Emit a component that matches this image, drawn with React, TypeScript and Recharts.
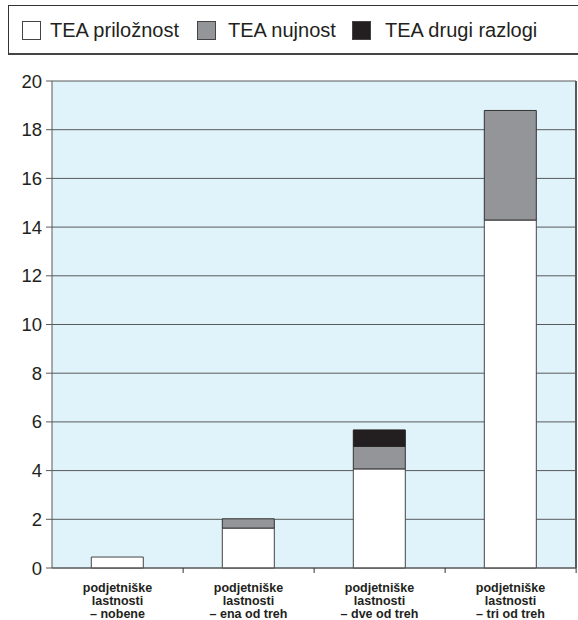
import React from "react";
import { BarChart, Bar, XAxis, YAxis, CartesianGrid } from "recharts";

const categories = ["– nobene", "– ena od treh", "– dve od treh", "– tri od treh"];
const priloznost = [0.45, 1.64, 4.07, 14.29];
const nujnost = [0, 0.38, 0.93, 4.5];
const drugi = [0, 0, 0.67, 0];
const yTicks = [0, 2, 4, 6, 8, 10, 12, 14, 16, 18, 20];

const data = categories.map((c, i) => ({
  label: c,
  priloznost: priloznost[i],
  nujnost: nujnost[i],
  drugi: drugi[i],
}));

const W = 578;
const H = 620;
const LEFT = 52;
const RIGHT = 1;
const band = (W - LEFT - RIGHT) / categories.length;
const font = "'Liberation Sans', Arial, sans-serif";

function CatTick({ x, y, payload }: any) {
  return (
    <g>
      <line x1={x + band / 2} x2={x + band / 2} y1={y - 8} y2={y - 3} stroke="#333" />
      <text x={x} y={y} textAnchor="middle" fontFamily={font} fontWeight="bold" fontSize={12.5} fill="#231f20">
        <tspan x={x} dy={16}>podjetniške</tspan>
        <tspan x={x} dy={13}>lastnosti</tspan>
        <tspan x={x} dy={13}>{payload.value}</tspan>
      </text>
    </g>
  );
}

const legendItems = [
  { name: "TEA priložnost", color: "#ffffff", left: 22, textLeft: 50 },
  { name: "TEA nujnost", color: "#939598", left: 197, textLeft: 228 },
  { name: "TEA drugi razlogi", color: "#231f20", left: 352, textLeft: 385 },
];

export default function App() {
  return (
    <div style={{ position: "absolute", left: 0, top: 0, width: W, height: H, background: "#fff" }}>
      <div
        style={{
          position: "absolute", left: 8, top: 5, width: 580, height: 50,
          border: "1px solid #333", borderBottom: "2px solid #444", boxSizing: "border-box",
        }}
      />
      {legendItems.map((it) => (
        <React.Fragment key={it.name}>
          <div
            style={{
              position: "absolute", left: it.left, top: 21, width: 19, height: 19,
              background: it.color, border: "1px solid #444", boxSizing: "border-box",
            }}
          />
          <div
            style={{
              position: "absolute", left: it.textLeft, top: 18, fontFamily: font,
              fontSize: 20, color: "#231f20", lineHeight: "24px", whiteSpace: "nowrap",
            }}
          >
            {it.name}
          </div>
        </React.Fragment>
      ))}
      <div style={{ position: "absolute", left: 0, top: 0 }}>
        <BarChart
          width={W}
          height={H}
          data={data}
          margin={{ top: 81, right: RIGHT, left: 0, bottom: 0 }}
          barCategoryGap="30%"
        >
          <CartesianGrid
            vertical={false}
            fill="#e0f3fb"
            fillOpacity={1}
            stroke="#58595b"
            strokeWidth={1}
          />
          <XAxis
            dataKey="label"
            height={52}
            interval={0}
            tick={<CatTick />}
            tickLine={false}
            axisLine={{ stroke: "#58595b" }}
          />
          <YAxis
            domain={[0, 20]}
            ticks={yTicks}
            width={LEFT}
            tick={{ fontFamily: font, fontSize: 18.5, fill: "#231f20" }}
            tickLine={{ stroke: "#58595b" }}
            tickSize={6}
            tickMargin={4}
            axisLine={{ stroke: "#58595b" }}
            interval={0}
          />
          <YAxis
            yAxisId="r"
            orientation="right"
            width={1}
            tick={false}
            tickLine={false}
            axisLine={{ stroke: "#58595b", strokeWidth: 2 }}
          />
          <Bar dataKey="priloznost" stackId="a" fill="#ffffff" stroke="#444" strokeWidth={1} isAnimationActive={false} />
          <Bar dataKey="nujnost" stackId="a" fill="#939598" stroke="#333" strokeWidth={1} isAnimationActive={false} />
          <Bar dataKey="drugi" stackId="a" fill="#231f20" stroke="#231f20" strokeWidth={1} isAnimationActive={false} />
        </BarChart>
      </div>
    </div>
  );
}
